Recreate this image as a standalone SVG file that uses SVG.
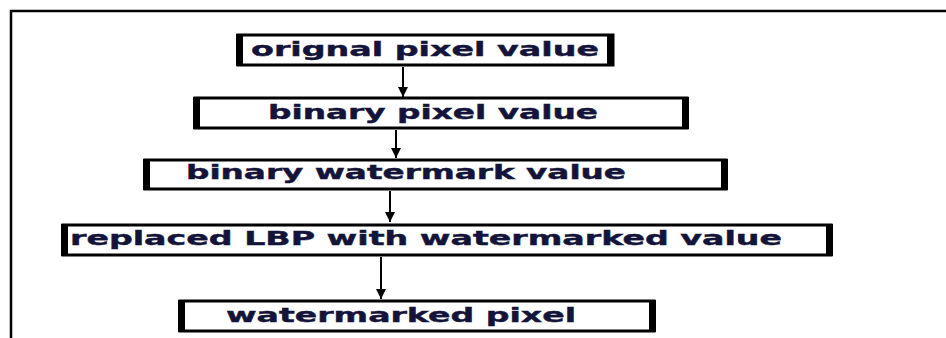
<svg xmlns="http://www.w3.org/2000/svg" width="946" height="338" viewBox="0 0 946 338">
<style>
.box{fill:#fff;stroke:#000;stroke-width:3}
.side{fill:#000}
.lbl{font-family:"DejaVu Sans","Verdana",sans-serif;font-weight:bold;font-size:19px;fill:#14143a;stroke:#14143a;stroke-width:0.4}
.con{stroke:#000;stroke-width:2;fill:none}
</style>
<defs>
<marker id="ah" viewBox="0 0 10 10" refX="10" refY="5" markerWidth="5" markerHeight="5" orient="auto" markerUnits="strokeWidth">
<path d="M0,0 L10,5 L0,10 z" fill="#000"/>
</marker>
</defs>
<g id="frame">
<path d="M11,338 V11 H946" fill="none" stroke="#000" stroke-width="2.5"/>
</g>
<g id="n1">
<rect class="box" x="238" y="35" width="375" height="30"/>
<rect class="side" x="236" y="34" width="7" height="32"/>
<rect class="side" x="607" y="34" width="7" height="32"/>
<text class="lbl" x="251" y="56" textLength="348" lengthAdjust="spacingAndGlyphs">orignal pixel value</text>
</g>
<g id="n2">
<rect class="box" x="195" y="98" width="492" height="30"/>
<rect class="side" x="193" y="97" width="7" height="32"/>
<rect class="side" x="682" y="97" width="7" height="32"/>
<text class="lbl" x="268" y="119" textLength="330" lengthAdjust="spacingAndGlyphs">binary pixel value</text>
</g>
<g id="n3">
<rect class="box" x="145" y="160" width="581" height="29"/>
<rect class="side" x="143" y="159" width="7" height="31"/>
<rect class="side" x="721" y="159" width="7" height="31"/>
<text class="lbl" x="186" y="179" textLength="440" lengthAdjust="spacingAndGlyphs">binary watermark value</text>
</g>
<g id="n4">
<rect class="box" x="63" y="225" width="768" height="30"/>
<rect class="side" x="61" y="224" width="7" height="32"/>
<rect class="side" x="826" y="224" width="7" height="32"/>
<text class="lbl" x="70" y="245" textLength="712" lengthAdjust="spacingAndGlyphs">replaced LBP with watermarked value</text>
</g>
<g id="n5">
<rect class="box" x="180" y="301" width="474" height="30"/>
<rect class="side" x="178" y="300" width="7" height="32"/>
<rect class="side" x="649" y="300" width="7" height="32"/>
<text class="lbl" x="226" y="322" textLength="350" lengthAdjust="spacingAndGlyphs">watermarked pixel</text>
</g>
<g id="connectors">
<line class="con" x1="403" y1="67" x2="403" y2="97" marker-end="url(#ah)"/>
<line class="con" x1="396" y1="130" x2="396" y2="158" marker-end="url(#ah)"/>
<line class="con" x1="390" y1="191" x2="390" y2="222" marker-end="url(#ah)"/>
<line class="con" x1="381" y1="257" x2="381" y2="299" marker-end="url(#ah)"/>
</g>
</svg>
